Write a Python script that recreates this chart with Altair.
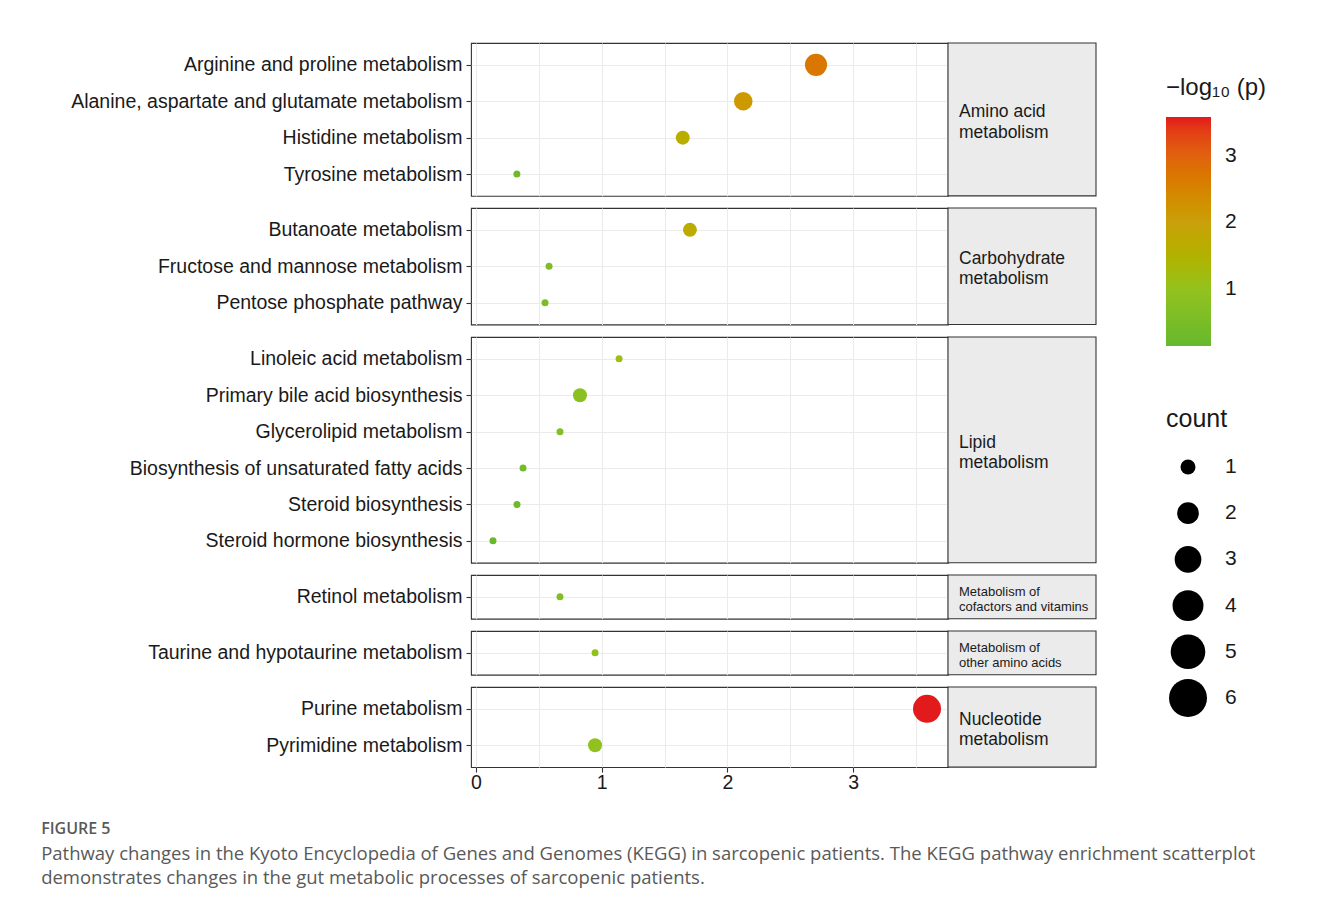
import altair as alt
import pandas as pd

# ---------------- data ----------------
pathways = [
    "Arginine and proline metabolism",
    "Alanine, aspartate and glutamate metabolism",
    "Histidine metabolism",
    "Tyrosine metabolism",
    "Butanoate metabolism",
    "Fructose and mannose metabolism",
    "Pentose phosphate pathway",
    "Linoleic acid metabolism",
    "Primary bile acid biosynthesis",
    "Glycerolipid metabolism",
    "Biosynthesis of unsaturated fatty acids",
    "Steroid biosynthesis",
    "Steroid hormone biosynthesis",
    "Retinol metabolism",
    "Taurine and hypotaurine metabolism",
    "Purine metabolism",
    "Pyrimidine metabolism",
]
categories = (
    ["Amino acid metabolism"] * 4
    + ["Carbohydrate metabolism"] * 3
    + ["Lipid metabolism"] * 6
    + ["Metabolism of cofactors and vitamins"]
    + ["Metabolism of other amino acids"]
    + ["Nucleotide metabolism"] * 2
)
neg_log10_p = [2.705, 2.126, 1.645, 0.325,
               1.702, 0.581, 0.549,
               1.138, 0.827, 0.668, 0.374, 0.326, 0.135,
               0.668,
               0.947,
               3.588, 0.947]
counts = [4, 3, 2, 1,
          2, 1, 1,
          1, 2, 1, 1, 1, 1,
          1,
          1,
          6, 2]

group_order = [
    "Amino acid metabolism",
    "Carbohydrate metabolism",
    "Lipid metabolism",
    "Metabolism of cofactors and vitamins",
    "Metabolism of other amino acids",
    "Nucleotide metabolism",
]
strip_labels = {
    "Amino acid metabolism": "Amino acid\nmetabolism",
    "Carbohydrate metabolism": "Carbohydrate\nmetabolism",
    "Lipid metabolism": "Lipid\nmetabolism",
    "Metabolism of cofactors and vitamins": "Metabolism of\ncofactors and vitamins",
    "Metabolism of other amino acids": "Metabolism of\nother amino acids",
    "Nucleotide metabolism": "Nucleotide\nmetabolism",
}
small_strips = {"Metabolism of cofactors and vitamins", "Metabolism of other amino acids"}

legend_counts = [1, 2, 3, 4, 5, 6]
color_ticks = [1, 2, 3]
x_grid_values = [0, 0.5, 1, 1.5, 2, 2.5, 3, 3.5]

color_domain = [0.135, 1.0, 2.0, 3.0, 3.588]
color_range = ["#66b82e", "#93c21e", "#c9a00b", "#e0620f", "#e31a1c"]

caption_title = "FIGURE 5"
caption_lines = [
    "Pathway changes in the Kyoto Encyclopedia of Genes and Genomes (KEGG) in sarcopenic patients. The KEGG pathway enrichment scatterplot",
    "demonstrates changes in the gut metabolic processes of sarcopenic patients.",
]

df = pd.DataFrame({
    "pathway": pathways,
    "category": categories,
    "logp": neg_log10_p,
    "count": counts,
})

# ---------------- styling ----------------
FONT = "Arial, Liberation Sans, sans-serif"
CAP_FONT = "Open Sans"
STEP = 36.4
W = 477
STRIP_W = 148
TXT = "#1a1a1a"
GRID = "#ebebeb"
BORDER = "#333333"

color_scale = alt.Scale(domain=color_domain, range=color_range)
size_scale = alt.Scale(domain=[1, 6], range=[49, 784])
x_scale = alt.Scale(domain=[-0.04, 3.755], nice=False, zero=False)

panels = []
for i, g in enumerate(group_order):
    sub = df[df["category"] == g]
    n = len(sub)
    H = STEP * (n + 0.2)
    last = i == len(group_order) - 1

    if last:
        xaxis = alt.Axis(
            title=None, values=x_grid_values, grid=True, gridColor=GRID, gridWidth=1.1,
            domain=False, labelFlush=False, labelFont=FONT, labelFontSize=19.5,
            labelColor=TXT, labelPadding=1, tickColor=BORDER, tickSize=5, tickWidth=1.1,
            labelExpr="datum.value % 1 === 0 ? format(datum.value, 'd') : ''",
            tickOpacity={"condition": {"test": "datum.value % 1 === 0", "value": 1}, "value": 0},
        )
    else:
        xaxis = alt.Axis(
            title=None, values=x_grid_values, grid=True, gridColor=GRID, gridWidth=1.1,
            domain=False, labels=False, ticks=False,
        )

    yaxis = alt.Axis(
        title=None, grid=True, gridColor=GRID, gridWidth=1.1, domain=False,
        tickColor=BORDER, tickSize=5, tickWidth=1.1, labelFont=FONT, labelFontSize=19.5,
        labelColor=TXT, labelPadding=4, labelLimit=0,
    )

    points = alt.Chart(sub).mark_circle(opacity=1).encode(
        x=alt.X("logp:Q", scale=x_scale, axis=xaxis),
        y=alt.Y("pathway:N", sort=list(sub["pathway"]),
                scale=alt.Scale(type="point", padding=0.6), axis=yaxis),
        color=alt.Color("logp:Q", scale=color_scale, legend=None),
        size=alt.Size("count:Q", scale=size_scale, legend=None),
    )

    strip_df = pd.DataFrame({"label": [strip_labels[g]]})
    strip_rect = alt.Chart(strip_df).mark_rect(
        fill="#ebebeb", stroke=BORDER, strokeWidth=1.1
    ).encode(
        x=alt.value(W), x2=alt.value(W + STRIP_W), y=alt.value(0), y2=alt.value(H)
    )
    fs = 13 if g in small_strips else 17.5
    lh = fs * 1.15
    strip_text = alt.Chart(strip_df).mark_text(
        align="left", baseline="middle", lineBreak="\n", font=FONT, fontSize=fs,
        color=TXT, lineHeight=lh,
    ).encode(
        x=alt.value(W + 11), y=alt.value(H / 2 - lh / 2 + 3), text="label:N"
    )

    panels.append(
        alt.layer(points, strip_rect, strip_text).properties(width=W, height=H)
    )

panels_col = alt.vconcat(*panels, spacing=12, bounds="flush")

# ---------------- legends ----------------
LEG_H = STEP * (17 + 6 * 0.2) + 5 * 12
leg_df = pd.DataFrame({"n": legend_counts})
y_leg = alt.Y("n:O", scale=alt.Scale(range=[424, 655], padding=0), axis=None)

leg_circles = alt.Chart(leg_df).mark_circle(color="black", opacity=1).encode(
    x=alt.value(22), y=y_leg,
    size=alt.Size("n:Q", scale=alt.Scale(domain=[1, 6], range=[225, 1444]), legend=None),
)
leg_labels = alt.Chart(leg_df).mark_text(
    align="left", baseline="middle", font=FONT, fontSize=21, color=TXT
).encode(x=alt.value(59), y=y_leg, text="n:O")
leg_title = alt.Chart(pd.DataFrame({"t": ["count"]})).mark_text(
    align="left", baseline="alphabetic", font=FONT, fontSize=25, color=TXT
).encode(x=alt.value(0), y=alt.value(384), text="t:N")

color_leg = alt.Chart(df).mark_circle(opacity=0).encode(
    color=alt.Color(
        "logp:Q", scale=color_scale,
        legend=alt.Legend(
            title="\u2212log\u2081\u2080 (p)", orient="none", legendX=0, legendY=33,
            direction="vertical", gradientLength=229, gradientThickness=45,
            gradientStrokeWidth=0, values=color_ticks, titleFont=FONT, titleFontSize=24,
            titleFontWeight="normal", titleColor=TXT, titlePadding=17,
            labelFont=FONT, labelFontSize=21, labelColor=TXT, labelOffset=14,
        ),
    )
)

legend_chart = alt.layer(color_leg, leg_circles, leg_labels, leg_title).properties(
    width=110, height=LEG_H, view=alt.ViewBackground(strokeOpacity=0)
)

chart = alt.hconcat(panels_col, legend_chart, spacing=68).resolve_scale(
    color="independent", size="independent"
).properties(
    padding={"left": 33, "top": 33, "right": 5, "bottom": 5},
    title=alt.TitleParams(
        text=caption_title, subtitle=caption_lines, orient="bottom", anchor="start",
        frame="bounds", font=CAP_FONT, fontSize=16, fontWeight=600, color="#595959",
        subtitleFont=CAP_FONT, subtitleFontSize=18.5, subtitleColor="#595959",
        subtitleLineHeight=24, subtitlePadding=8, offset=29, dx=-29,
    ),
).configure_view(stroke=BORDER, strokeWidth=1.1)

chart.save("out.html", embed_options={"renderer": "svg", "actions": False})
